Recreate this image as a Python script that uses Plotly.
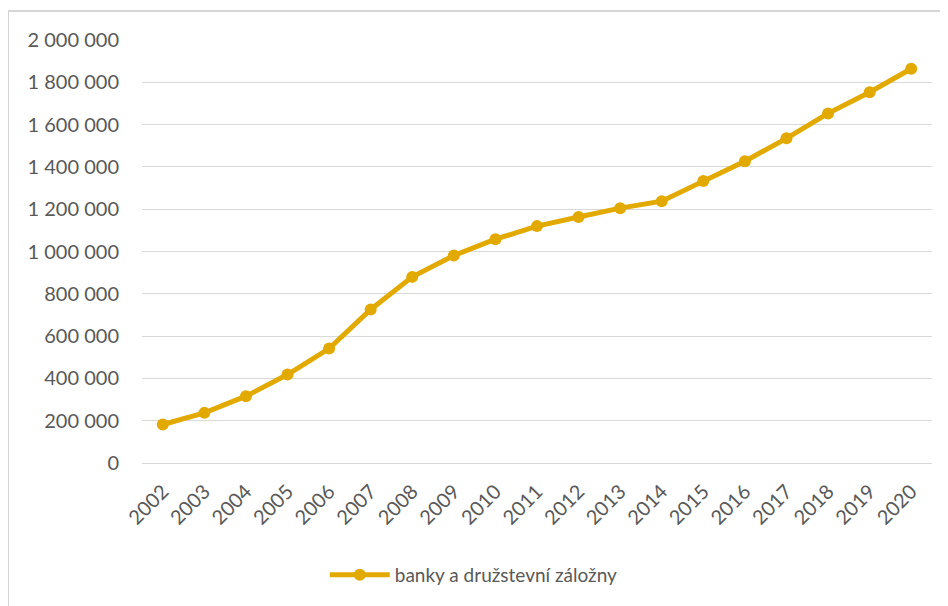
import plotly.graph_objects as go

years = [str(y) for y in range(2002, 2021)]
values = [182000, 237000, 316000, 418000, 541000, 726000, 880000, 981000, 1058000,
          1120000, 1163000, 1205000, 1238000, 1333000, 1427000, 1535000, 1653000,
          1753000, 1864000]
series_name = "banky a družstevní záložny"
y_ticks = list(range(0, 2000001, 200000))
y_tick_labels = [f"{v:,}".replace(",", " ") for v in y_ticks]

gold = "#E2AA00"
txt = "#595959"
font_family = "Lato, 'Liberation Sans', sans-serif"

fig = go.Figure()
fig.add_trace(go.Scatter(
    x=years, y=values, mode="lines+markers", name=series_name,
    line=dict(color=gold, width=5),
    marker=dict(color=gold, size=12),
))

fig.update_layout(
    width=940, height=598,
    margin=dict(l=134, r=16, t=32, b=143, autoexpand=False),
    paper_bgcolor="white", plot_bgcolor="white",
    font=dict(family=font_family, size=19, color=txt),
    showlegend=True,
    legend=dict(orientation="h", xref="container", yref="container",
                x=0.337, xanchor="left", y=0.052, yanchor="middle",
                font=dict(size=19, color=txt), itemwidth=60),
    xaxis=dict(type="category", range=[-0.5, len(years) - 0.5], tickangle=-45,
               showgrid=False, showline=False, ticklabelstandoff=12,
               automargin=False, ticks="", tickfont=dict(size=20, color=txt)),
    yaxis=dict(range=[0, 2000000], tickvals=y_ticks, ticktext=y_tick_labels,
               showgrid=True, gridcolor="#d9d9d9", gridwidth=1.3,
               zeroline=True, zerolinecolor="#d9d9d9", zerolinewidth=1.3,
               showline=False, ticks="", ticklabelstandoff=22, automargin=False,
               tickfont=dict(size=20, color=txt)),
    shapes=[dict(type="rect", xref="paper", yref="paper",
                 x0=-134/790, x1=1.1, y0=-0.5, y1=1 + 29/422.7,
                 line=dict(color="#d6d6d6", width=2), fillcolor="rgba(0,0,0,0)",
                 layer="above")],
)

fig.write_html("out.html")
